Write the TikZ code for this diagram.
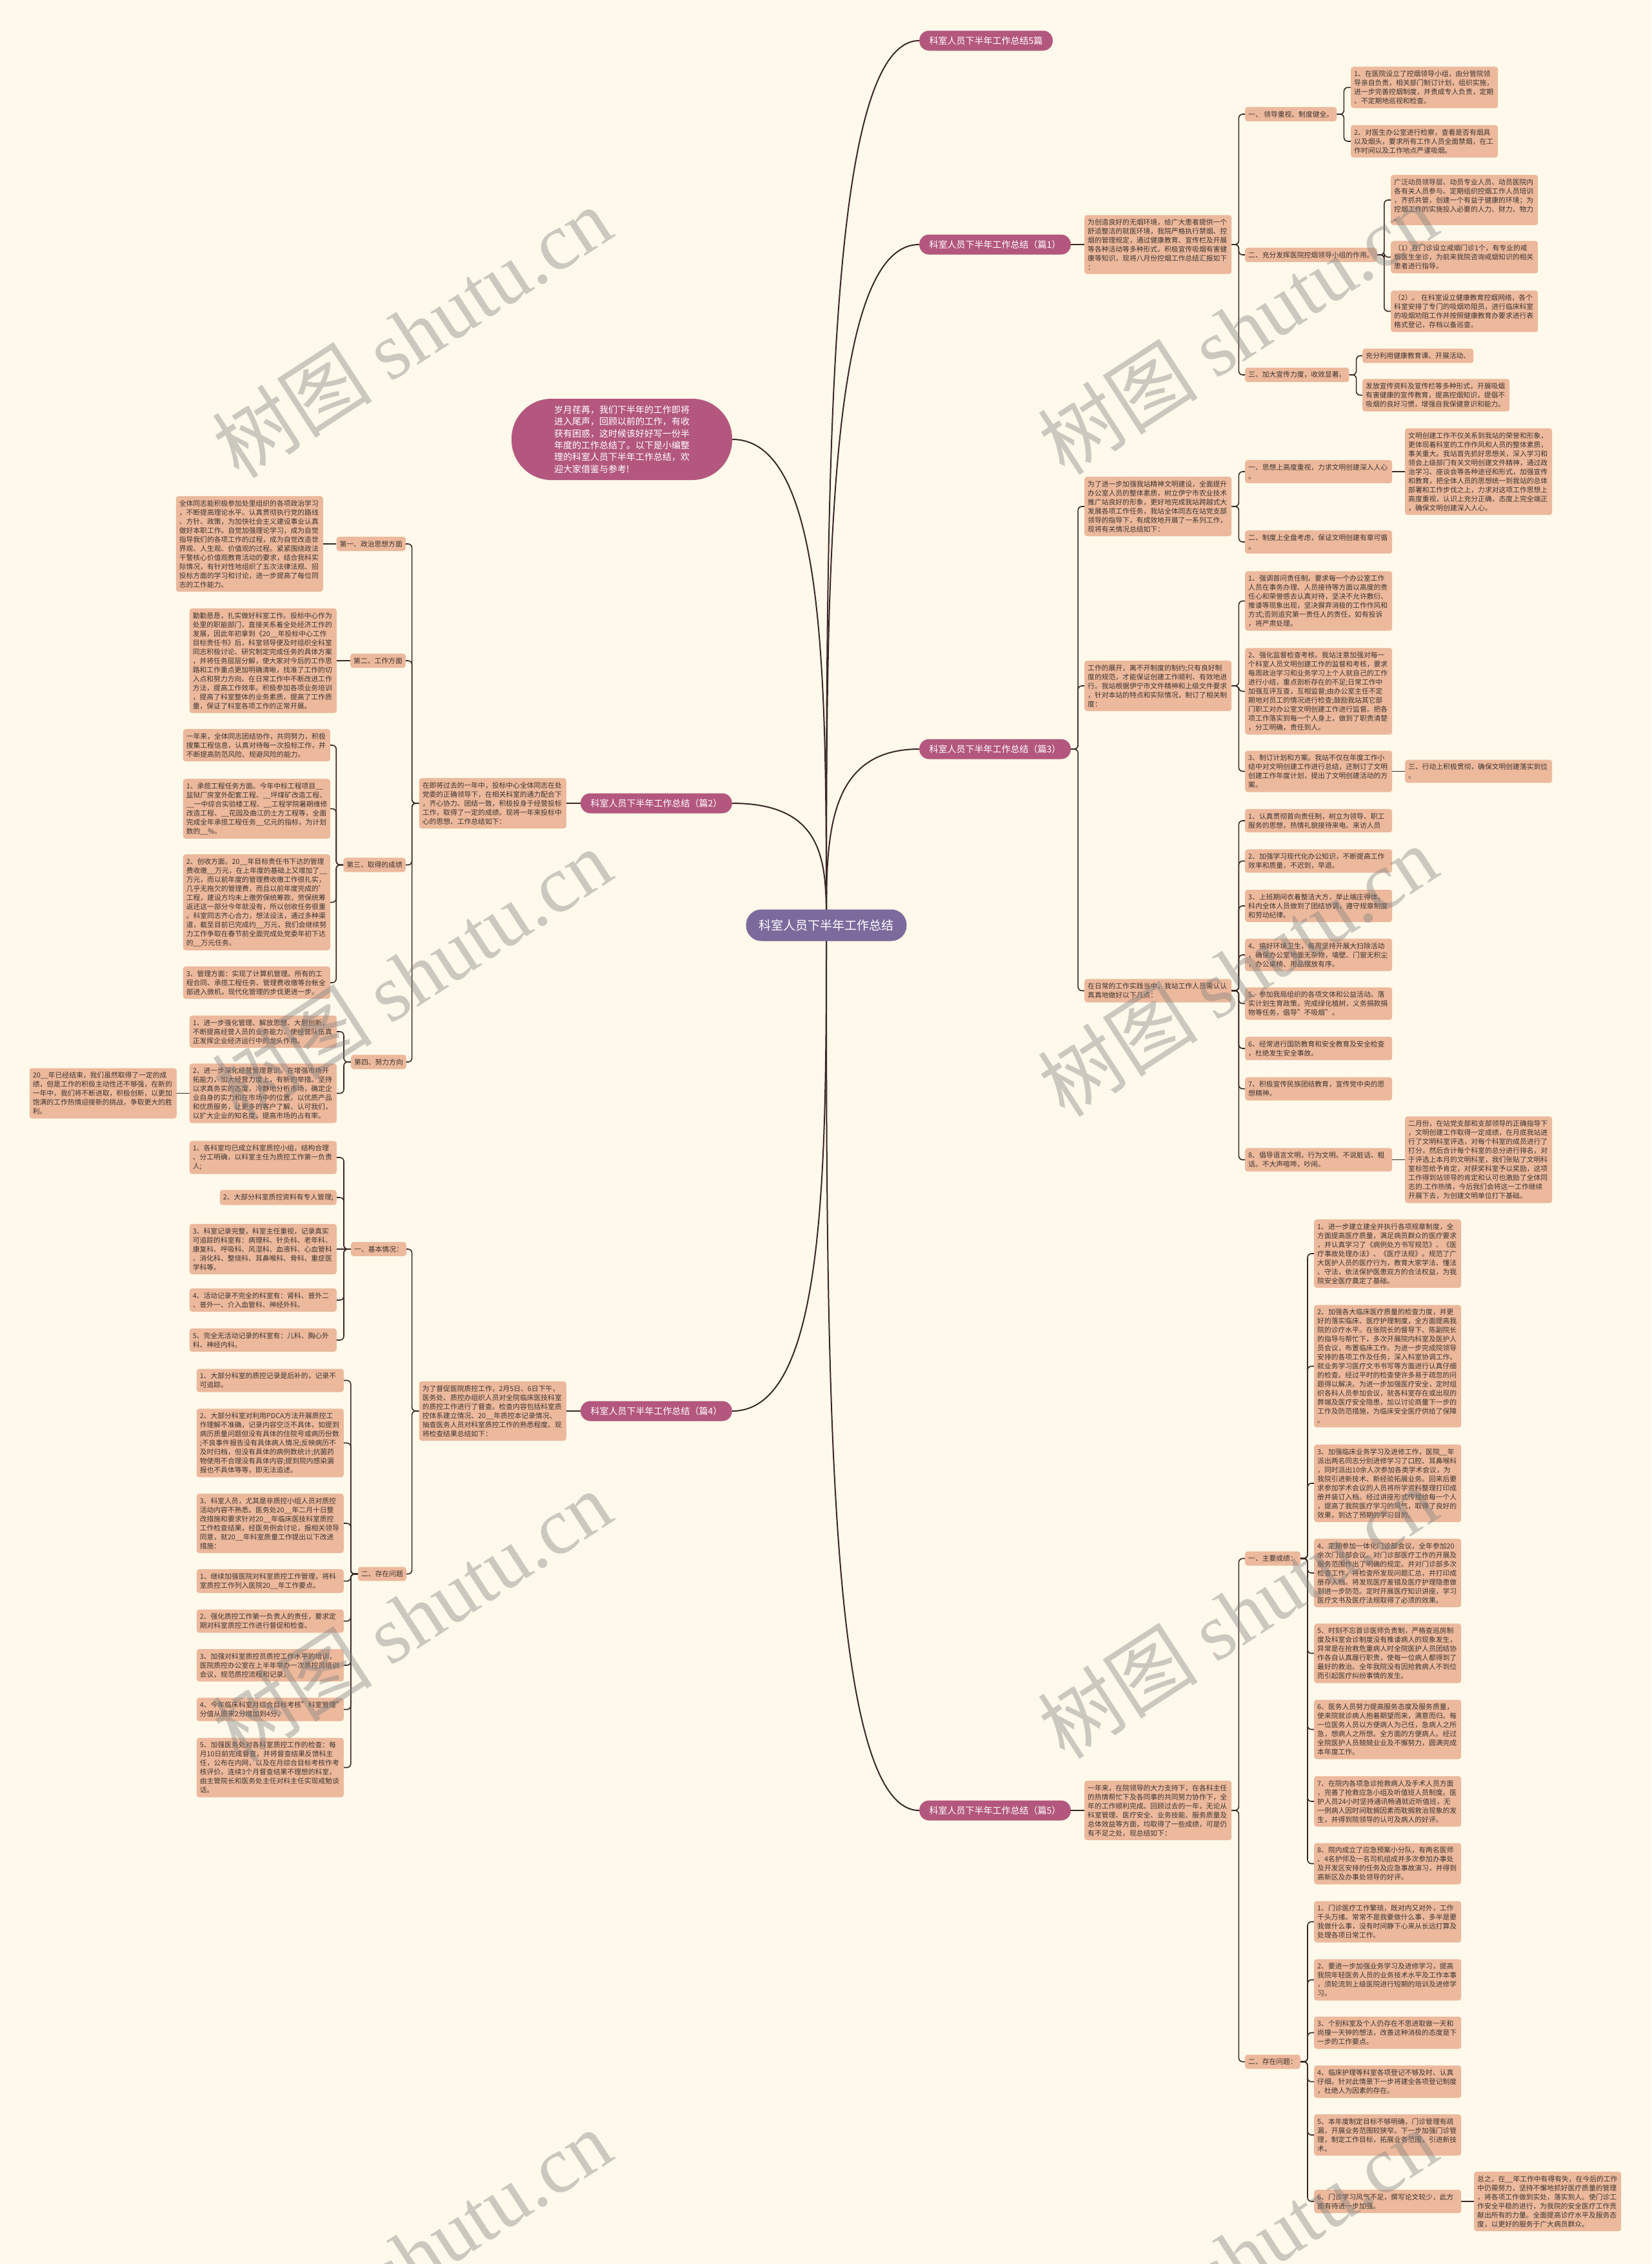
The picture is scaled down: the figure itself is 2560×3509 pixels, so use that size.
\documentclass[tikz,border=0pt]{standalone}
\usepackage{fontspec}
\setmainfont{Noto Sans CJK SC}
\newfontfamily\wmserif{Liberation Serif}
\definecolor{paper}{HTML}{FEF9EA}
\definecolor{peach}{HTML}{ECB99D}
\definecolor{rose}{HTML}{B3577E}
\definecolor{plum}{HTML}{7C6A9C}
\definecolor{ink}{HTML}{40352F}
\definecolor{wire}{HTML}{3A2626}
\pgfdeclarelayer{paperlayer}
\pgfdeclarelayer{wires}
\pgfsetlayers{paperlayer,wires,main}
\begin{document}
\begin{tikzpicture}[x=1pt, y=-1pt,
    box/.style={fill=peach, text=ink, rounded corners=4pt, inner xsep=5pt, inner ysep=6pt,
        font=\fontsize{10.8}{14}\selectfont},
    leaf/.style={box, align=left, text width=218pt},
    branch/.style={fill=rose, text=white, rounded corners=15pt, minimum height=31pt,
        inner xsep=15.5pt, font=\fontsize{14}{17}\selectfont},
    link/.style={draw=wire, line width=1.6pt, rounded corners=6pt},
    trunk/.style={draw=wire, line width=2pt},
    wmark/.style={text=black!50, text opacity=0.4, rotate=33, font=\fontsize{125}{125}\selectfont}]
    \useasboundingbox (0,0) rectangle (2560,3509);
    \begin{pgfonlayer}{paperlayer}
        \fill[paper] (0,0) rectangle (2560,3509);
    \end{pgfonlayer}

    % Centre and intro
    \node[fill=plum, text=white, rounded corners=24pt, minimum height=49pt, inner xsep=20pt,
        font=\fontsize{19}{22}\selectfont] (root) at (1281,1434) {科室人员下半年工作总结};
    \node[fill=rose, text=white, rounded corners=62pt, minimum width=342pt, minimum height=126pt,
        align=left, font=\fontsize{14}{18.3}\selectfont] (intro) at (964,681)
        {岁月荏苒，我们下半年的工作即将\\进入尾声，回顾以前的工作，有收\\获有困惑，这时候该好好写一份半\\年度的工作总结了。以下是小编整\\理的科室人员下半年工作总结，欢\\迎大家借鉴与参考!};
    \node[branch, anchor=west] (top5) at (1425,63) {科室人员下半年工作总结5篇};

    % Part 1
    \node[branch, anchor=west] (p1) at (1425,379) {科室人员下半年工作总结（篇1）};
    \node[leaf, anchor=west] (p1t) at (1681,379) {为创造良好的无烟环境，给广大患者提供一个\\舒适整洁的就医环境，我院严格执行禁烟、控\\烟的管理规定，通过健康教育、宣传栏及开展\\等各种活动等多种形式，积极宣传吸烟有害健\\康等知识，现将八月份控烟工作总结汇报如下\\：};
    \node[box, anchor=west] (p1a) at (1930,177) {一、 领导重视、制度健全。};
    \node[leaf, anchor=west] (p1a1) at (2094,135.5) {1、在医院设立了控烟领导小组，由分管院领\\导亲自负责，相关部门制订计划，组织实施，\\进一步完善控烟制度，并责成专人负责，定期\\、不定期地巡视和检查。};
    \node[leaf, anchor=west] (p1a2) at (2094,219) {2、对医生办公室进行检察，查看是否有烟具\\以及烟头，要求所有工作人员全面禁烟，在工\\作时间以及工作地点严谨吸烟。};
    \node[box, anchor=west] (p1b) at (1930,395) {二、充分发挥医院控烟领导小组的作用。};
    \node[leaf, anchor=west] (p1b1) at (2156,310) {广泛动员领导层、动员专业人员、动员医院内\\各有关人员参与。定期组织控烟工作人员培训\\，齐抓共管，创建一个有益于健康的环境；为\\控烟工作的实施投入必要的人力、财力、物力\\。};
    \node[leaf, anchor=west] (p1b2) at (2156,398.5) {（1）在门诊设立戒烟门诊1个，有专业的戒\\烟医生坐诊，为前来我院咨询戒烟知识的相关\\患者进行指导。};
    \node[leaf, anchor=west] (p1b3) at (2156,482.5) {（2）。 在科室设立健康教育控烟网络，各个\\科室安排了专门的吸烟劝阻员，进行临床科室\\的吸烟劝阻工作并按照健康教育办要求进行表\\格式登记，存档以备巡查。};
    \node[box, anchor=west] (p1c) at (1930,581) {三、加大宣传力度，收效显著。};
    \node[box, anchor=west] (p1c1) at (2112,551.5) {充分利用健康教育课、开展活动、};
    \node[leaf, anchor=west] (p1c2) at (2112,612.5) {发放宣传资料及宣传栏等多种形式，开展吸烟\\有害健康的宣传教育，提高控烟知识，提倡不\\吸烟的良好习惯，增强自我保健意识和能力。};

    % Part 3
    \node[branch, anchor=west] (p3) at (1425,1161) {科室人员下半年工作总结（篇3）};
    \node[leaf, anchor=west] (p3ta) at (1681,785) {为了进一步加强我站精神文明建设，全面提升\\办公室人员的整体素质，树立伊宁市农业技术\\推广站良好的形象，更好地完成我站跨越式大\\发展各项工作任务，我站全体同志在站党支部\\领导的指导下，有成效地开展了一系列工作，\\现将有关情况总结如下：};
    \node[leaf, anchor=west] (p3a) at (1930,731) {一、思想上高度重视，力求文明创建深入人心\\。};
    \node[leaf, anchor=west] (p3a1) at (2178,731) {文明创建工作不仅关系到我站的荣誉和形象，\\更体现着科室的工作作风和人员的整体素质，\\事关重大。我站首先抓好思想关，深入学习和\\领会上级部门有关文明创建文件精神，通过政\\治学习、座谈会等各种途径和形式，加强宣传\\和教育，把全体人员的思想统一到我站的总体\\部署和工作步伐之上，力求对这项工作思想上\\高度重视，认识上充分正确，态度上完全端正\\，确保文明创建深入人心。};
    \node[leaf, anchor=west] (p3b) at (1930,840) {二、制度上全盘考虑，保证文明创建有章可循\\。};
    \node[leaf, anchor=west] (p3tb) at (1681,1063) {工作的展开，离不开制度的制约;只有良好制\\度的规范，才能保证创建工作顺利、有效地进\\行。我站根据伊宁市文件精神和上级文件要求\\，针对本站的特点和实际情况，制订了相关制\\度：};
    \node[leaf, anchor=west] (p3b1) at (1930,931.5) {1、强调首问责任制。要求每一个办公室工作\\人员在事务办理、人员接待等方面以高度的责\\任心和荣誉感去认真对待，坚决不允许敷衍、\\推诿等现象出现，坚决摒弃消极的工作作风和\\方式;否则追究第一责任人的责任，如有投诉\\，将严肃处理。};
    \node[leaf, anchor=west] (p3b2) at (1930,1071.5) {2、强化监督检查考核。我站注意加强对每一\\个科室人员文明创建工作的监督和考核，要求\\每周政治学习和业务学习上个人就自己的工作\\进行小结，重点剖析存在的不足;日常工作中\\加强互评互查，互相监督;由办公室主任不定\\期地对员工的情况进行检查;鼓励我站其它部\\门职工对办公室文明创建工作进行监督。把各\\项工作落实到每一个人身上，做到了职责清楚\\，分工明确，责任到人。};
    \node[leaf, anchor=west] (p3b3) at (1930,1195.5) {3、制订计划和方案。我站不仅在年度工作小\\结中对文明创建工作进行总结，还制订了文明\\创建工作年度计划，提出了文明创建活动的方\\案。};
    \node[leaf, anchor=west] (p3b4) at (2178,1195.5) {三、行动上积极贯彻，确保文明创建落实到位\\。};
    \node[leaf, anchor=west] (p3tc) at (1681,1535.5) {在日常的工作实践当中，我站工作人员需认认\\真真地做好以下几点：};
    \node[leaf, anchor=west] (p3c1) at (1930,1272) {1、认真贯彻首向责任制，树立为领导、职工\\服务的思想，热情礼貌接待来电、来访人员};
    \node[leaf, anchor=west] (p3c2) at (1930,1334.5) {2、加强学习现代化办公知识，不断提高工作\\效率和质量，不迟到，早退。};
    \node[leaf, anchor=west] (p3c3) at (1930,1404) {3、上班期间衣着整洁大方，举止端庄得体。\\科内全体人员做到了团结协调，遵守规章制度\\和劳动纪律。};
    \node[leaf, anchor=west] (p3c4) at (1930,1480) {4、搞好环境卫生，每周坚持开展大扫除活动\\，确保办公室地面无杂物，墙壁、门窗无积尘\\，办公桌椅、用品摆放有序。};
    \node[leaf, anchor=west] (p3c5) at (1930,1555.5) {5、参加我局组织的各项文体和公益活动。落\\实计划生育政策，完成绿化植树，义务捐款捐\\物等任务，倡导"不吸烟"。};
    \node[leaf, anchor=west] (p3c6) at (1930,1625) {6、经常进行国防教育和安全教育及安全检查\\，杜绝发生安全事故。};
    \node[leaf, anchor=west] (p3c7) at (1930,1687.5) {7、积极宣传民族团结教育，宣传党中央的思\\想精神。};
    \node[leaf, anchor=west] (p3c8) at (1930,1797.5) {8、倡导语言文明，行为文明。不说脏话、粗\\话。不大声喧哗，吵闹。};
    \node[leaf, anchor=west] (p3c9) at (2178,1797.5) {二月份，在站党支部和支部领导的正确指导下\\，文明创建工作取得一定成绩，在月底我站进\\行了文明科室评选，对每个科室的成员进行了\\打分，然后合计每个科室的总分进行排名，对\\于评选上本月的文明科室，我们张贴了文明科\\室标签给予肯定，对获奖科室予以奖励，这项\\工作得到站领导的肯定和认可也激励了全体同\\志的.工作热情，今后我们会将这一工作继续\\开展下去，为创建文明单位打下基础。};

    % Part 5
    \node[branch, anchor=west] (p5) at (1425,2806) {科室人员下半年工作总结（篇5）};
    \node[leaf, anchor=west] (p5t) at (1681,2806) {一年来，在院领导的大力支持下，在各科主任\\的热情帮忙下及各同事的共同努力协作下，全\\年的工作顺利完成。回顾过去的一年，无论从\\科室管理、医疗安全、业务技能、服务质量及\\总体效益等方面，均取得了一些成绩，可是仍\\有不足之处，现总结如下：};
    \node[box, anchor=west] (p5a) at (1930,2415.5) {一、主要成绩：};
    \node[leaf, anchor=west] (p5a1) at (2037,1943) {1、进一步建立建全并执行各项规章制度，全\\方面提高医疗质量，满足病员群众的医疗要求\\，并认真学习了《病例处方书写规范》、《医\\疗事故处理办法》、《医疗法规》。规范了广\\大医护人员的医疗行为，教育大家学法、懂法\\、守法，依法保护医患双方的合法权益，为我\\院安全医疗奠定了基础。};
    \node[leaf, anchor=west] (p5a2) at (2037,2117.5) {2、加强各大临床医疗质量的检查力度，并更\\好的落实临床、医疗护理制度，全方面提高我\\院的诊疗水平。在张院长的督导下、陈副院长\\的指导与帮忙下，多次开展院内科室及医护人\\员会议，布置临床工作。为进一步完成院领导\\安排的各项工作及任务，深入科室协调工作。\\就业务学习医疗文书书写等方面进行认真仔细\\的检查。经过平时的检查使许多易于疏忽的问\\题得以解决。为进一步加强医疗安全，定时组\\织各科人员参加会议，就各科室存在或出现的\\弊端及医疗安全隐患，加以讨论商量下一步的\\工作及防范措施，为临床安全医疗供给了保障\\。};
    \node[leaf, anchor=west] (p5a3) at (2037,2299) {3、加强临床业务学习及进修工作，医院\_\_年\\派出两名同志分别进修学习了口腔、耳鼻喉科\\，同时派出10余人次参加各类学术会议，为\\我院引进新技术、新经验拓展业务。回来后要\\求参加学术会议的人员将所学资料整理打印成\\册并装订入档。经过讲座形式传授给每一个人\\，提高了我院医疗学习的风气，取得了良好的\\效果，到达了预期的学习目的。};
    \node[leaf, anchor=west] (p5a4) at (2037,2438) {4、定期参加一体化门诊部会议，全年参加20\\余次门诊部会议。对门诊部医疗工作的开展及\\服务范围作出了明确的规定。并对门诊部多次\\检查工作，将检查所发现问题汇总，并打印成\\册存入档。将发现医疗差错及医疗护理隐患做\\到进一步防范。定时开展医疗知识讲座，学习\\医疗文书及医疗法规取得了必须的效果。};
    \node[leaf, anchor=west] (p5a5) at (2037,2562.5) {5、时刻不忘首诊医师负责制，严格查巡房制\\度及科室会诊制度没有推诿病人的现象发生，\\异常是在抢救危重病人时全院医护人员团结协\\作各自认真履行职责，使每一位病人都得到了\\最好的救治。全年我院没有因抢救病人不到位\\而引起医疗纠纷事情的发生。};
    \node[leaf, anchor=west] (p5a6) at (2037,2680.5) {6、医务人员努力提高服务态度及服务质量，\\使来院就诊病人抱着期望而来，满意而归。每\\一位医务人员以方便病人为己任，急病人之所\\急，想病人之所想。全方面的方便病人。经过\\全院医护人员兢兢业业及不懈努力，圆满完成\\本年度工作。};
    \node[leaf, anchor=west] (p5a7) at (2037,2792) {7、在院内各项急诊抢救病人及手术人员方面\\，完善了抢救应急小组及听值班人员制度。医\\护人员24小时坚持通讯畅通就近听值班，无\\一例病人因时间耽搁因素而耽搁救治现象的发\\生，并得到院领导的认可及病人的好评。};
    \node[leaf, anchor=west] (p5a8) at (2037,2888.5) {8、院内成立了应急预案小分队，有两名医师\\、4名护师及一名司机组成并多次参加办事处\\及开发区安排的任务及应急事故演习，并得到\\高新区及办事处领导的好评。};
    \node[box, anchor=west] (p5b) at (1930,3195.5) {二、存在问题：};
    \node[leaf, anchor=west] (p5b1) at (2037,2978.5) {1、门诊医疗工作繁琐，既对内又对外，工作\\千头万绪。常常不是我要做什么事，多半是要\\我做什么事，没有时间静下心来从长远打算及\\处理各项日常工作。};
    \node[leaf, anchor=west] (p5b2) at (2037,3068.5) {2、要进一步加强业务学习及进修学习，提高\\我院年轻医务人员的业务技术水平及工作本事\\，须轮流到上级医院进行短期的培训及进修学\\习。};
    \node[leaf, anchor=west] (p5b3) at (2037,3150.5) {3、个别科室及个人仍存在不思进取做一天和\\尚撞一天钟的想法，改善这种消极的态度是下\\一步的工作要点。};
    \node[leaf, anchor=west] (p5b4) at (2037,3226.5) {4、临床护理等科室各项登记不够及时、认真\\仔细。针对此情景下一步将建全各项登记制度\\，杜绝人为因素的存在。};
    \node[leaf, anchor=west] (p5b5) at (2037,3309) {5、本年度制定目标不够明确，门诊管理有疏\\漏，开展业务范围较狭窄。下一步加强门诊管\\理，制定工作目标，拓展业务范围，引进新技\\术。};
    \node[leaf, anchor=west] (p5b6) at (2037,3412) {6、门诊学习风气不足，撰写论文较少，此方\\面有待进一步加强。};
    \node[leaf, anchor=west] (p5b7) at (2285,3412) {总之，在\_\_年工作中有得有失，在今后的工作\\中仍需努力，坚持不懈地抓好医疗质量的管理\\，将各项工作做到实处，落实到人。使门诊工\\作安全平稳的进行，为我院的安全医疗工作贡\\献出所有的力量。全面提高诊疗水平及服务态\\度，以更好的服务于广大病员群众。};

    % Part 2 (left)
    \node[branch, anchor=east] (p2) at (1135,1245) {科室人员下半年工作总结（篇2）};
    \node[leaf, anchor=east] (p2t) at (878,1245) {在即将过去的一年中，投标中心全体同志在处\\党委的正确领导下，在相关科室的通力配合下\\，齐心协力、团结一致，积极投身于经营投标\\工作，取得了一定的成绩。现将一年来投标中\\心的思想、工作总结如下：};
    \node[box, anchor=east] (p2a) at (629,843) {第一、政治思想方面};
    \node[leaf, anchor=east] (p2a1) at (501,843) {全体同志能积极参加处里组织的各项政治学习\\，不断提高理论水平。认真贯彻执行党的路线\\、方针、政策，为加快社会主义建设事业认真\\做好本职工作。自觉加强理论学习，成为自觉\\指导我们的各项工作的过程，成为自觉改造世\\界观、人生观、价值观的过程。紧紧围绕政法\\干警核心价值观教育活动的要求，结合我科实\\际情况，有针对性地组织了五次法律法规、招\\投标方面的学习和讨论，进一步提高了每位同\\志的工作能力。};
    \node[box, anchor=east] (p2b) at (629,1024) {第二、工作方面};
    \node[leaf, anchor=east] (p2b1) at (522,1024) {勤勤恳恳，扎实做好科室工作。投标中心作为\\处里的职能部门，直接关系着全处经济工作的\\发展，因此年初拿到《20\_\_年投标中心工作\\目标责任书》后，科室领导便及时组织全科室\\同志积极讨论、研究制定完成任务的具体方案\\，并将任务层层分解，使大家对今后的工作思\\路和工作重点更加明确清晰，找准了工作的切\\入点和努力方向。在日常工作中不断改进工作\\方法，提高工作效率。积极参加各项业务培训\\，提高了科室整体的业务素质，提高了工作质\\量，保证了科室各项工作的正常开展。};
    \node[box, anchor=east] (p2c) at (629,1340.5) {第三、取得的成绩};
    \node[leaf, anchor=east] (p2c1) at (512,1155) {一年来，全体同志团结协作，共同努力，积极\\搜集工程信息，认真对待每一次投标工作，并\\不断提高防范风险、规避风险的能力。};
    \node[leaf, anchor=east] (p2c2) at (512,1253.5) {1、承揽工程任务方面。今年中标工程项目\_\_\\监狱厂房室外配套工程、\_\_坪煤矿改造工程、\\\_\_一中综合实验楼工程、\_\_工程学院暑期维修\\改造工程、\_\_花园及曲江的土方工程等，全面\\完成全年承揽工程任务\_\_亿元的指标，为计划\\数的\_\_\%。};
    \node[leaf, anchor=east] (p2c3) at (512,1398.5) {2、创收方面。20\_\_年目标责任书下达的管理\\费收缴\_\_万元，在上年度的基础上又增加了\_\_\\万元，而以前年度的管理费收缴工作很扎实，\\几乎无拖欠的管理费，而且以前年度完成的'\\工程，建设方均未上缴劳保统筹款，劳保统筹\\返还这一部分今年就没有，所以创收任务很重\\。科室同志齐心合力，想法设法，通过多种渠\\道，截至目前已完成约\_\_万元，我们会继续努\\力工作争取在春节前全面完成处党委年初下达\\的\_\_万元任务。};
    \node[leaf, anchor=east] (p2c4) at (512,1523) {3、管理方面：实现了计算机管理。所有的工\\程合同、承揽工程任务、管理费收缴等台帐全\\部进入微机，现代化管理的步伐更进一步。};
    \node[box, anchor=east] (p2d) at (630,1646) {第四、努力方向};
    \node[leaf, anchor=east] (p2d1) at (522,1599) {1、进一步强化管理、解放思想、大胆创新，\\不断提高经营人员的业务能力，使经营队伍真\\正发挥企业经济运行中的龙头作用。};
    \node[leaf, anchor=east] (p2d2) at (522,1694.5) {2、进一步深化经营管理意识。在增强市场开\\拓能力，加大经营力度上，有新的举措。坚持\\以求真务实的态度，冷静地分析市场，确定企\\业自身的实力和在市场中的位置。以优质产品\\和优质服务，让更多的客户了解、认可我们，\\以扩大企业的知名度，提高市场的占有率。};
    \node[leaf, anchor=east] (p2d3) at (274,1694.5) {20\_\_年已经结束，我们虽然取得了一定的成\\绩，但是工作的积极主动性还不够强，在新的\\一年中，我们将不断进取，积极创新，以更加\\饱满的工作热情迎接新的挑战，争取更大的胜\\利。};

    % Part 4 (left)
    \node[branch, anchor=east] (p4) at (1135,2187) {科室人员下半年工作总结（篇4）};
    \node[leaf, anchor=east] (p4t) at (878,2187) {为了督促医院质控工作，2月5日、6日下午，\\医务处、质控办组织人员对全院临床医技科室\\的质控工作进行了督查。检查内容包括科室质\\控体系建立情况、20\_\_年质控本记录情况、\\抽查医务人员对科室质控工作的熟悉程度。现\\将检查结果总结如下：};
    \node[box, anchor=east] (p4a) at (630,1936) {一、基本情况：};
    \node[leaf, anchor=east] (p4a1) at (522,1794) {1、各科室均已成立科室质控小组，结构合理\\、分工明确，以科室主任为质控工作第一负责\\人;};
    \node[box, anchor=east] (p4a2) at (522,1856) {2、大部分科室质控资料有专人管理;};
    \node[leaf, anchor=east] (p4a3) at (522,1936) {3、科室记录完整，科室主任重视，记录真实\\可追踪的科室有：病理科、针灸科、老年科、\\康复科、呼吸科、风湿科、血液科、心血管科\\、消化科、整烧科、耳鼻喉科、骨科、重症医\\学科等。};
    \node[leaf, anchor=east] (p4a4) at (522,2015) {4、活动记录不完全的科室有：肾科、普外二\\、普外一、介入血管科、神经外科。};
    \node[leaf, anchor=east] (p4a5) at (522,2077) {5、完全无活动记录的科室有：儿科、胸心外\\科、神经内科。};
    \node[box, anchor=east] (p4b) at (630,2439.5) {二、存在问题};
    \node[leaf, anchor=east] (p4b1) at (533,2139.5) {1、大部分科室的质控记录是后补的，记录不\\可追踪。};
    \node[leaf, anchor=east] (p4b2) at (533,2236.5) {2、大部分科室对利用PDCA方法开展质控工\\作理解不准确，记录内容空泛不具体，如提到\\病历质量问题但没有具体的住院号或病历份数\\;不良事件报告没有具体病人情况;反映病历不\\及时归档，但没有具体的病例数统计;抗菌药\\物使用不合理没有具体内容;提到院内感染漏\\报也不具体等等，即无法追述。};
    \node[leaf, anchor=east] (p4b3) at (533,2361) {3、科室人员，尤其是非质控小组人员对质控\\活动内容不熟悉。医务处20\_\_年二月十日整\\改措施和要求针对20\_\_年临床医技科室质控\\工作检查结果，经医务例会讨论，报相关领导\\同意，就20\_\_年科室质量工作提出以下改进\\措施：};
    \node[leaf, anchor=east] (p4b4) at (533,2450.5) {1、继续加强医院对科室质控工作管理，将科\\室质控工作列入医院20\_\_年工作要点。};
    \node[leaf, anchor=east] (p4b5) at (533,2512.5) {2、强化质控工作第一负责人的责任，要求定\\期对科室质控工作进行督促和检查。};
    \node[leaf, anchor=east] (p4b6) at (533,2581) {3、加强对科室质控员质控工作水平的培训，\\医院质控办公室在上半年举办一次质控员培训\\会议，规范质控流程和记录。};
    \node[leaf, anchor=east] (p4b7) at (533,2649.5) {4、今年临床科室月综合目标考核"科室管理"\\分值从原来2分增加到4分。};
    \node[leaf, anchor=east] (p4b8) at (533,2739.5) {5、加强医务处对各科室质控工作的检查：每\\月10日前完成督查，并将督查结果反馈科主\\任，公布在内网，以及在月综合目标考核作考\\核评价。连续3个月督查结果不理想的科室，\\由主管院长和医务处主任对科主任实现戒勉谈\\话。};

    \begin{pgfonlayer}{wires}
        % Trunk curves
        \draw[trunk] (intro.east) .. controls (1281,681) and (1281,1060) .. (root.center);
        \draw[trunk] (root.center) .. controls (1281,749) and (1281,63) .. (top5.west);
        \draw[trunk] (root.center) .. controls (1281,906) and (1281,379) .. (p1.west);
        \draw[trunk] (root.center) .. controls (1281,1340) and (1281,1245) .. (p2.east);
        \draw[trunk] (root.center) .. controls (1281,1298) and (1281,1161) .. (p3.west);
        \draw[trunk] (root.center) .. controls (1281,1810) and (1281,2187) .. (p4.east);
        \draw[trunk] (root.center) .. controls (1281,2120) and (1281,2806) .. (p5.west);

        % Part 1 links
        \draw[link] (p1.east) -- (p1t.west);
        \foreach \c in {p1a,p1b,p1c} \draw[link] (p1t.east) -- ++(11,0) |- (\c.west);
        \foreach \c in {p1a1,p1a2} \draw[link] (p1a.east) -- ++(11,0) |- (\c.west);
        \foreach \c in {p1b1,p1b2,p1b3} \draw[link] (p1b.east) -- ++(11,0) |- (\c.west);
        \foreach \c in {p1c1,p1c2} \draw[link] (p1c.east) -- ++(11,0) |- (\c.west);

        % Part 3 links
        \foreach \c in {p3ta,p3tb,p3tc} \draw[link] (p3.east) -- ++(11,0) |- (\c.west);
        \foreach \c in {p3a,p3b} \draw[link] (p3ta.east) -- ++(11,0) |- (\c.west);
        \draw[link] (p3a.east) -- (p3a1.west);
        \foreach \c in {p3b1,p3b2,p3b3} \draw[link] (p3tb.east) -- ++(11,0) |- (\c.west);
        \draw[link] (p3b3.east) -- (p3b4.west);
        \foreach \i in {1,...,8} \draw[link] (p3tc.east) -- ++(11,0) |- (p3c\i.west);
        \draw[link] (p3c8.east) -- (p3c9.west);

        % Part 5 links
        \draw[link] (p5.east) -- (p5t.west);
        \foreach \c in {p5a,p5b} \draw[link] (p5t.east) -- ++(11,0) |- (\c.west);
        \foreach \i in {1,...,8} \draw[link] (p5a.east) -- ++(11,0) |- (p5a\i.west);
        \foreach \i in {1,...,6} \draw[link] (p5b.east) -- ++(11,0) |- (p5b\i.west);
        \draw[link] (p5b6.east) -- (p5b7.west);

        % Part 2 links
        \draw[link] (p2.west) -- (p2t.east);
        \foreach \c in {p2a,p2b,p2c,p2d} \draw[link] (p2t.west) -- ++(-11,0) |- (\c.east);
        \draw[link] (p2a.west) -- (p2a1.east);
        \draw[link] (p2b.west) -- (p2b1.east);
        \foreach \i in {1,...,4} \draw[link] (p2c.west) -- ++(-11,0) |- (p2c\i.east);
        \foreach \i in {1,2} \draw[link] (p2d.west) -- ++(-11,0) |- (p2d\i.east);
        \draw[link] (p2d2.west) -- (p2d3.east);

        % Part 4 links
        \draw[link] (p4.west) -- (p4t.east);
        \foreach \c in {p4a,p4b} \draw[link] (p4t.west) -- ++(-11,0) |- (\c.east);
        \foreach \i in {1,2,4,5} \draw[link] (p4a.west) -- ++(-11,0) |- (p4a\i.east);
        \draw[link] (p4a.west) -- (p4a3.east);
        \foreach \i in {1,...,8} \draw[link] (p4b.west) -- ++(-11,0) |- (p4b\i.east);
    \end{pgfonlayer}

    % Watermark
    \foreach \wx/\wy [count=\k] in {638/515,1918/510,638/1510,1918/1505,638/2505,1918/2500,638/3495,1918/3495}
        \node[wmark] (wm\k) at (\wx,\wy) {树图 {\wmserif shutu.cn}};
\end{tikzpicture}
\end{document}
